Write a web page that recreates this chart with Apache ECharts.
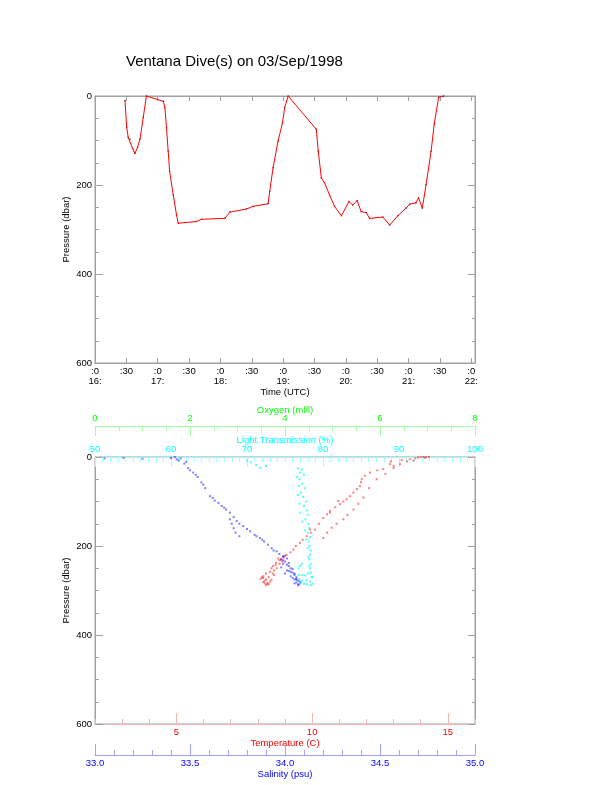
<!DOCTYPE html>
<html><head><meta charset="utf-8">
<script src="https://cdn.jsdelivr.net/npm/echarts@6/dist/echarts.min.js"></script>
<style>html,body{margin:0;padding:0;background:#fff}#c{width:612px;height:785px}</style>
</head><body><div id="c"></div><script>
const titleText = 'Ventana Dive(s) on 03/Sep/1998';
// top panel: dive track (time in decimal hours UTC, pressure dbar)
const diveTime = [16.478,16.505,16.53,16.557,16.6,16.637,16.68,16.717,16.77,16.82,17.09,17.115,17.14,17.167,17.19,17.247,17.3,17.327,17.62,17.70,18.07,18.15,18.415,18.52,18.76,18.787,18.84,18.92,18.99,19.025,19.08,19.53,19.56,19.61,19.66,19.74,19.82,19.93,20.05,20.11,20.18,20.245,20.325,20.38,20.59,20.70,20.83,20.96,21.02,21.12,21.16,21.22,21.28,21.36,21.41,21.48,21.56];
const divePressure = [10,70,93,97,118,129,115,97,48,0,12,26,71,124,169,222,267,286,282,277,275,261,254,248,242,214,161,101,60,26,0,75,124,184,195,222,248,269,237,245,235,260,262,275,272,290,269,252,243,240,229,252,199,124,63,3,0];
const tempRange = [2, 16];
const tempMajorRange = [5, 15];

// bottom panel: profiles
const tempValues =    [14.0,14.1,14.2,14.3,13.9,14.15,13.8,13.6,13.3,12.9,13.73,13.24,12.87,12.62,12.13,11.83,11.76,11.52,11.27,11.03,10.66,10.41,10.1,9.8,13.5,12.38,11.89,11.52,11.15,10.72,10.41,10.96,10.66,9.92,9.55,9.31,9.06,8.93,8.85,8.67,8.55,8.5,8.45,8.3,8.2,8.19,8.3,8.45,8.35,8.3,8.25,8.6,8.7,8.8,8.9,8.6,8.4,8.75,8.5,8.25,8.15,8.4,
  13.0,12.4,11.95,11.8,11.65,11.4,11.15,10.85,10.55,10.25,9.95,9.65,9.4,9.2,13.0,12.7,12.1,11.7,11.3,10.9,10.55,8.1,8.2,8.35,8.55,8.65,8.8,8.95];
const tempPressure =  [0,0,0,0,1,2,3,5,7,10,8,16,16,27,35,50,65,80,95,106,121,137,163,178,10,50,91,118,140,159,182,99,125,163,193,208,220,224,230,238,245,250,258,262,268,272,275,280,283,288,278,255,250,240,235,265,270,228,276,284,270,286,
  20,30,42,57,72,88,100,113,129,150,170,186,200,214,25,38,70,105,130,150,170,274,281,286,262,243,232,226];
const salValues =     [33.42,33.40,33.45,33.43,33.48,33.05,33.15,33.25,33.47,33.49,33.517,33.54,33.56,33.58,33.605,33.63,33.667,33.69,33.71,33.73,33.746,33.78,33.816,33.84,33.868,33.89,33.91,33.93,33.956,33.97,33.99,33.71,33.72,33.73,33.74,33.76,34.0,34.01,34.0,33.99,34.02,34.03,34.02,34.04,34.05,34.06,34.05,34.07,34.06,34.07,34.04,34.03,34.01,33.98,34.0,34.02,34.05,34.08,34.06,34.07,
  33.44,33.5,33.53,33.57,33.62,33.65,33.68,33.76,33.8,33.85,33.88,33.94,33.98,34.03,34.05,34.06,34.08,34.04,33.99,34.01];
const salPressure =   [0,2,3,5,11,3,2,4,15,25,35,45,57,70,88,98,110,118,125,135,144,155,167,175,182,190,197,205,212,218,223,140,150,160,170,178,222,228,235,240,245,250,256,260,265,270,275,278,282,286,272,268,255,248,262,238,284,280,274,288,
  8,30,40,62,92,103,114,150,162,178,186,210,230,258,262,276,284,252,232,242];
const transValues =   [70.0,70.5,71.2,71.7,72.5,76.7,77.2,77.0,77.5,76.9,77.3,77.6,77.1,77.4,77.8,77.5,77.9,78.0,77.7,78.1,78.2,78.0,78.3,78.1,78.2,78.4,78.3,78.2,78.4,78.3,78.4,78.5,78.3,78.4,76.8,77.2,77.6,76.9,77.3,77.8,77.0,77.5,77.9,76.8,77.0,77.2,78.6,78.7,
  76.6,76.8,76.7,76.9,77.0,77.3,77.6,77.8,78.0,78.1,78.2,78.0];
const transPressure = [8,12,18,24,20,25,28,35,40,50,60,70,80,90,100,110,120,130,140,150,160,170,180,190,200,210,220,230,240,250,260,270,280,288,265,265,266,275,278,277,283,285,286,250,245,240,270,285,
  45,65,85,105,125,145,165,185,205,225,245,262];

const FONT = 'Liberation Sans, Arial, Helvetica, sans-serif';
const zip = (a, b) => a.map((v, i) => [v, b[i]]);
const tickLabel = v => {
  const r = Math.round(v * 2) / 2;
  if (Math.abs(v - r) > 1e-6) return '';
  return Number.isInteger(r) ? ':0\n' + r + ':' : ':30';
};
const gray = '#a0a0a0';
const pink = '#f7b4b4';
const base = {fontFamily: FONT, fontSize: 9.5};
const line = c => ({onZero: false, lineStyle: {color: c}});

// layout of the two panels
const G = {left: 95, width: 380, height: 267, top1: 96, top2: 457};
// a helper grid that spans exactly the 5..15 degC part of the temperature scale (for the long ticks)
const majLeft = G.left + (tempMajorRange[0] - tempRange[0]) / (tempRange[1] - tempRange[0]) * G.width;
const majWidth = (tempMajorRange[1] - tempMajorRange[0]) / (tempRange[1] - tempRange[0]) * G.width;

const chart = echarts.init(document.getElementById('c'), null, {renderer: 'canvas'});
chart.setOption({
  animation: false,
  backgroundColor: '#fff',
  title: {text: titleText, left: 121, top: 49, textStyle: {fontFamily: FONT, fontSize: 15, fontWeight: 'normal', color: '#000'}},
  grid: [
    {left: G.left, top: G.top1, width: G.width, height: G.height, show: true, borderColor: gray, borderWidth: 1},
    {left: G.left, top: G.top2, width: G.width, height: G.height, show: true, borderColor: gray, borderWidth: 1},
    {left: majLeft, top: G.top2, width: majWidth, height: G.height, show: false}
  ],
  xAxis: [
    // 0: time (bottom)
    {gridIndex: 0, type: 'value', min: 16, max: 22.06, interval: 0.5, position: 'bottom',
     axisLine: line(gray), axisTick: {inside: true, length: 5, lineStyle: {color: gray}},
     axisLabel: Object.assign({formatter: tickLabel, margin: 3, color: '#000', lineHeight: 10, showMaxLabel: false}, base),
     splitLine: {show: false}, name: 'Time (UTC)', nameLocation: 'middle', nameGap: 24,
     nameTextStyle: Object.assign({color: '#000'}, base)},
    // 1: time mirror (top)
    {gridIndex: 0, type: 'value', min: 16, max: 22.06, interval: 0.5, position: 'top',
     axisLine: line(gray), axisTick: {inside: true, length: 5, lineStyle: {color: gray}},
     axisLabel: {show: false}, splitLine: {show: false}},
    // 2: light transmission (top)
    {gridIndex: 1, type: 'value', min: 50, max: 100, interval: 10, position: 'top',
     axisLine: line('#a0ffff'),
     axisTick: {inside: true, length: 10, lineStyle: {color: '#a0ffff'}},
     minorTick: {show: true, splitNumber: 10, length: 5, lineStyle: {color: '#a0ffff'}},
     axisLabel: Object.assign({margin: 3, color: '#00ffff'}, base),
     splitLine: {show: false}, name: 'Light Transmission (%)', nameLocation: 'middle', nameGap: 12, nameMoveOverlap: false,
     nameTextStyle: Object.assign({color: '#00ffff'}, base)},
    // 3: temperature (bottom), 1 degC ticks
    {gridIndex: 1, type: 'value', min: tempRange[0], max: tempRange[1], interval: 1, position: 'bottom',
     axisLine: line(pink),
     axisTick: {inside: true, length: 5, lineStyle: {color: pink}},
     axisLabel: Object.assign({formatter: v => (v % 5 === 0 ? String(v) : ''), margin: 3, color: '#ff0000'}, base),
     splitLine: {show: false}, name: 'Temperature (C)', nameLocation: 'middle', nameGap: 14,
     nameTextStyle: Object.assign({color: '#ff0000'}, base)},
    // 4: temperature long ticks at 5, 10, 15
    {gridIndex: 2, type: 'value', min: tempMajorRange[0], max: tempMajorRange[1], interval: 5, position: 'bottom',
     axisLine: {show: false, onZero: false}, axisTick: {inside: true, length: 11, lineStyle: {color: pink}},
     axisLabel: {show: false}, splitLine: {show: false}},
    // 5: salinity (bottom, offset)
    {gridIndex: 1, type: 'value', min: 33, max: 35, interval: 0.5, position: 'bottom', offset: 31,
     axisLine: line('#a0a0ff'),
     axisTick: {inside: true, length: 11, lineStyle: {color: '#a0a0ff'}},
     minorTick: {show: true, splitNumber: 5, length: 5, lineStyle: {color: '#a0a0ff'}},
     axisLabel: Object.assign({formatter: v => v.toFixed(1), margin: 3, color: '#0000ff'}, base),
     splitLine: {show: false}, minorSplitLine: {show: false}, name: 'Salinity (psu)', nameLocation: 'middle', nameGap: 14,
     nameTextStyle: Object.assign({color: '#0000ff'}, base)},
    // 6: oxygen (top, offset)
    {gridIndex: 1, type: 'value', min: 0, max: 8, interval: 2, position: 'top', offset: 31,
     axisLine: line('#a0ffa0'),
     axisTick: {inside: true, length: 10, lineStyle: {color: '#a0ffa0'}},
     minorTick: {show: true, splitNumber: 4, length: 5, lineStyle: {color: '#a0ffa0'}},
     axisLabel: Object.assign({margin: 3, color: '#00ff00'}, base),
     splitLine: {show: false}, name: 'Oxygen (ml/l)', nameLocation: 'middle', nameGap: 11, nameMoveOverlap: false,
     nameTextStyle: Object.assign({color: '#00ff00'}, base)}
  ],
  yAxis: [0, 1].flatMap(g => [
    {gridIndex: g, type: 'value', min: 0, max: 600, interval: 200, inverse: true, position: 'left',
     axisLine: line(gray), axisTick: {inside: true, length: 8, lineStyle: {color: gray}},
     minorTick: {show: true, splitNumber: 4, length: 4, lineStyle: {color: gray}},
     axisLabel: Object.assign({margin: 3, color: '#000'}, base),
     splitLine: {show: false}, minorSplitLine: {show: false},
     name: 'Pressure (dbar)', nameLocation: 'middle', nameGap: 24, nameRotate: 90, nameMoveOverlap: false,
     nameTextStyle: Object.assign({color: '#000'}, base)},
    {gridIndex: g, type: 'value', min: 0, max: 600, interval: 200, inverse: true, position: 'right',
     axisLine: line(gray), axisTick: {inside: true, length: 7, lineStyle: {color: gray}},
     minorTick: {show: true, splitNumber: 4, length: 3, lineStyle: {color: gray}},
     axisLabel: {show: false}, splitLine: {show: false}, minorSplitLine: {show: false}}
  ]).concat([
    {gridIndex: 2, type: 'value', min: 0, max: 600, inverse: true, show: false, axisLine: {onZero: false}}
  ]),
  series: [
    {type: 'line', xAxisIndex: 0, yAxisIndex: 0, data: zip(diveTime, divePressure), symbol: 'none',
     lineStyle: {color: '#ff0000', width: 1}},
    {type: 'scatter', xAxisIndex: 0, yAxisIndex: 0, data: zip(diveTime, divePressure), symbolSize: 1.6,
     itemStyle: {color: '#300000'}},
    {type: 'scatter', xAxisIndex: 3, yAxisIndex: 2, data: zip(tempValues, tempPressure), symbol: 'rect', symbolSize: 2,
     itemStyle: {color: '#ff0000', opacity: 0.5}},
    {type: 'scatter', xAxisIndex: 5, yAxisIndex: 2, data: zip(salValues, salPressure), symbol: 'rect', symbolSize: 2,
     itemStyle: {color: '#0000ff', opacity: 0.5}},
    {type: 'scatter', xAxisIndex: 2, yAxisIndex: 2, data: zip(transValues, transPressure), symbol: 'rect', symbolSize: 2,
     itemStyle: {color: '#00ffff', opacity: 0.7}}
  ]
});
</script></body></html>
